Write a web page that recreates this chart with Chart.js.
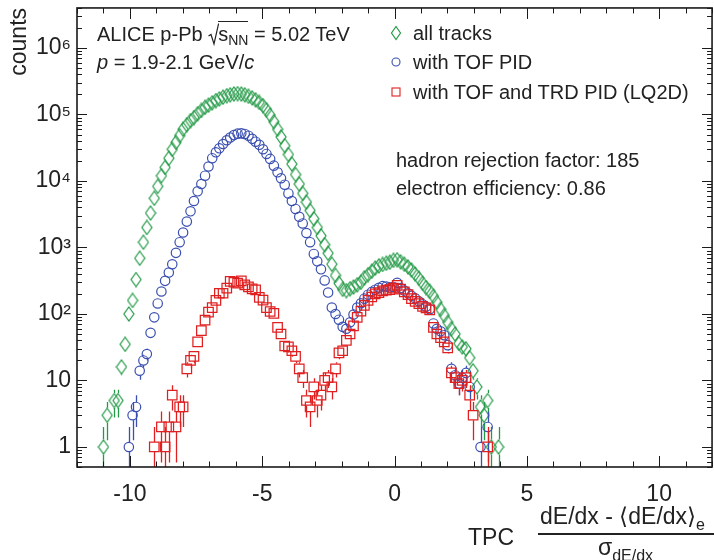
<!DOCTYPE html>
<html><head><meta charset="utf-8">
<script src="https://cdn.jsdelivr.net/npm/chart.js@4.4.1/dist/chart.umd.min.js"></script>
<style>
html,body{margin:0;padding:0;background:#fff;overflow:hidden;width:714px;height:560px;}
#wrap{position:absolute;left:0;top:0;width:720px;height:560px;}
canvas{display:block}
.t{position:absolute;font-family:"Liberation Sans",Arial,sans-serif;color:#222;white-space:nowrap;line-height:20px;font-size:20px}
.t sub{font-size:14px;vertical-align:-4px;line-height:0}
.x{position:absolute;font-family:"Liberation Sans",Arial,sans-serif;color:#222;white-space:nowrap;line-height:23px;font-size:23px}
.x sub{font-size:16px;vertical-align:-6px;line-height:0}
.mk{position:absolute}
</style></head><body>
<div id="wrap"><canvas id="c" width="720" height="560"></canvas></div>

<div class="t" style="left:97px;top:23px">ALICE p-Pb <svg width="11" height="24" style="vertical-align:-6px;margin-right:-1px"><path d="M0.5 13 L3 11.5 L6 21 L10.5 1 L11 1" fill="none" stroke="#222" stroke-width="1.2"/></svg><span style="border-top:1.2px solid #222;padding-top:1px">s<sub>NN</sub></span> = 5.02 TeV</div>
<div class="t" style="left:97px;top:52px"><i>p</i> = 1.9-2.1 GeV/<i>c</i></div>

<svg class="mk" style="left:390px;top:25px" width="12" height="16"><path d="M6 1.5 L10.5 8 L6 14.5 L1.5 8Z" fill="none" stroke="#239a47" stroke-width="1.2"/></svg>
<div class="t" style="left:413px;top:23px">all tracks</div>
<svg class="mk" style="left:391px;top:57px" width="10" height="10"><circle cx="5" cy="5" r="4" fill="none" stroke="#3a4fb0" stroke-width="1.1"/></svg>
<div class="t" style="left:413px;top:52px">with TOF PID</div>
<svg class="mk" style="left:391px;top:87px" width="10" height="10"><rect x="1" y="1" width="8" height="8" fill="none" stroke="#e02020" stroke-width="1.1"/></svg>
<div class="t" style="left:413px;top:82px">with TOF and TRD PID (LQ2D)</div>

<div class="t" style="left:396px;top:150px">hadron rejection factor: 185</div>
<div class="t" style="left:396px;top:178px">electron efficiency: 0.86</div>

<div class="x" style="left:468px;top:526px">TPC</div>
<div class="x" style="left:540px;top:505px">dE/dx - ⟨dE/dx⟩<sub>e</sub></div>
<div style="position:absolute;left:538px;top:533px;width:190px;height:1.5px;background:#222"></div>
<div class="x" style="left:598px;top:536px">σ<sub>dE/dx</sub></div>

<script>
// bin centres (x) shared by all three histograms
const binCenters = [-11.00,-10.86,-10.73,-10.59,-10.45,-10.32,-10.18,-10.04,-9.90,-9.77,
-9.63,-9.49,-9.36,-9.22,-9.08,-8.95,-8.81,-8.67,-8.53,-8.40,
-8.26,-8.12,-7.99,-7.85,-7.71,-7.58,-7.44,-7.30,-7.16,-7.03,
-6.89,-6.75,-6.62,-6.48,-6.34,-6.21,-6.07,-5.93,-5.79,-5.66,
-5.52,-5.38,-5.25,-5.11,-4.97,-4.84,-4.70,-4.56,-4.42,-4.29,
-4.15,-4.01,-3.88,-3.74,-3.60,-3.47,-3.33,-3.19,-3.05,-2.92,
-2.78,-2.64,-2.51,-2.37,-2.23,-2.10,-1.96,-1.82,-1.68,-1.55,
-1.41,-1.27,-1.14,-1.00,-0.86,-0.73,-0.59,-0.45,-0.31,-0.18,
-0.04,0.10,0.23,0.37,0.51,0.64,0.78,0.92,1.06,1.19,
1.33,1.47,1.60,1.74,1.88,2.01,2.15,2.29,2.43,2.56,
2.70,2.84,2.97,3.11,3.25,3.38,3.52,3.66,3.80,3.93];

// all tracks (green diamonds)
const allTracks = [1,3,null,5,5,16,35,100,160,330,
690,1200,2000,3300,5500,8300,12000,16000,22000,30000,
38000,48000,60000,70000,81000,90000,103000,115000,128000,138000,
150000,162000,172000,182000,192000,198000,204000,206000,203000,198000,
188000,178000,166000,152000,136000,118000,98000,78000,60000,46000,
34000,25000,18000,12500,9000,6500,4800,3600,2700,2000,
1500,1100,820,560,380,290,235,225,240,255,
275,300,350,390,440,490,530,555,580,600,
640,655,610,560,510,460,400,345,290,250,
220,185,150,118,95,75,60,50,36,32,
30,22,14,8,4,3,5,1,null,1];

// with TOF PID (blue circles)
const withTOF = [null,null,null,null,null,null,null,1,3,4,
14,20,25,52,89,144,218,315,420,560,
830,1200,1680,2450,3500,5000,7000,9000,12000,16500,
22000,27000,31000,36000,41000,45000,49000,51500,52000,51000,
48000,43000,39000,35000,30000,25500,21500,17000,13500,11000,
8800,6500,5000,3800,2900,2300,1650,1200,800,620,
470,320,210,125,100,82,64,60,75,98,
125,145,170,195,215,232,248,262,258,252,
255,295,245,225,205,188,172,155,140,128,
118,72,60,55,48,34,15,12,9,11,
13,8,null,null,1,null,2,null,null,null];

// with TOF and TRD PID, LQ2D (red squares)
const withTOFTRD = [null,null,null,null,null,null,null,null,null,null,
null,null,null,null,1,null,2,1,2,6,
2,4,4,15,20,23,38,56,81,107,
125,160,205,205,245,310,300,290,315,275,
255,238,230,178,162,125,109,102,63,50,
33,32,28,23,15,11,5,4,8,5,
6,10,11,8,15,26,28,40,50,66,
89,110,135,160,180,200,210,222,228,232,
245,270,237,215,195,170,155,143,130,124,
115,63,50,44,38,31,13,11,9,10,
11,6,3,null,null,null,1,null,null,null];

const seriesNames = ['all tracks', 'with TOF PID', 'with TOF and TRD PID (LQ2D)'];
const xMin = -12, xMax = 12, yMin = 0.5, yMax = 4e6;

const FONT = '"Liberation Sans", Arial, sans-serif';
const GREEN = '#239a47', BLUE = '#3a4fb0', RED = '#e02020';

function toPoints(vals) {
  const out = [];
  vals.forEach((v, i) => { if (v !== null) out.push({x: binCenters[i], y: v}); });
  return out;
}

// tall open diamond marker
const diamond = document.createElement('canvas');
diamond.width = 12; diamond.height = 16;
(function(){ const g = diamond.getContext('2d'); g.strokeStyle = GREEN; g.lineWidth = 1.2;
  g.beginPath(); g.moveTo(6, 1); g.lineTo(11, 8); g.lineTo(6, 15); g.lineTo(1, 8); g.closePath(); g.stroke(); })();

const markerHalf = [7.5, 4.9, 4.9];

const errorBars = {
  id: 'errorBars',
  afterDatasetDraw(chart, args) {
    const i = args.index, meta = args.meta, ds = chart.data.datasets[i];
    const y = chart.scales.y, a = chart.chartArea, ctx = chart.ctx;
    const half = markerHalf[i];
    ctx.save();
    ctx.beginPath(); ctx.rect(a.left, a.top, a.right - a.left, a.bottom - a.top); ctx.clip();
    ctx.strokeStyle = ds.borderColor; ctx.lineWidth = 1.3; ctx.beginPath();
    meta.data.forEach((pt, j) => {
      const v = ds.data[j].y, e = Math.sqrt(v);
      const hi = y.getPixelForValue(v + e);
      const lo = (v - e) > 0 ? y.getPixelForValue(v - e) : a.bottom + 2;
      const px = Math.round(pt.x) + 0.5;
      if (hi < pt.y - half) { ctx.moveTo(px, pt.y - half); ctx.lineTo(px, hi); }
      if (lo > pt.y + half) { ctx.moveTo(px, pt.y + half); ctx.lineTo(px, lo); }
    });
    ctx.stroke(); ctx.restore();
  }
};

const frameTicks = {
  id: 'frameTicks',
  afterDraw(chart) {
    const {ctx, chartArea: a, scales: {x, y}} = chart;
    ctx.save();
    ctx.strokeStyle = '#1a1a1a'; ctx.lineWidth = 1; ctx.beginPath();
    for (let v = xMin; v <= xMax; v++) {
      const px = Math.round(x.getPixelForValue(v)) + 0.5;
      const L = v % 5 === 0 ? 11 : 5.5;
      ctx.moveTo(px, a.bottom); ctx.lineTo(px, a.bottom - L);
      ctx.moveTo(px, a.top); ctx.lineTo(px, a.top + L);
    }
    for (let d = -1; d <= 7; d++) for (let m = 1; m <= 9; m++) {
      const v = m * Math.pow(10, d);
      if (v < yMin || v > yMax) continue;
      const py = Math.round(y.getPixelForValue(v)) + 0.5;
      const L = m === 1 ? 10 : 5;
      ctx.moveTo(a.left, py); ctx.lineTo(a.left + L, py);
      ctx.moveTo(a.right, py); ctx.lineTo(a.right - L, py);
    }
    ctx.stroke();
    ctx.lineWidth = 1.6;
    ctx.strokeRect(a.left, a.top, a.right - a.left, a.bottom - a.top);
    ctx.restore();
  }
};

const SUP = {2:'²',3:'³',4:'⁴',5:'⁵',6:'⁶'};

new Chart(document.getElementById('c'), {
  type: 'scatter',
  data: { datasets: [
    { label: seriesNames[0], data: toPoints(allTracks), borderColor: GREEN, backgroundColor: 'transparent',
      pointStyle: diamond, pointRadius: 6, order: 3 },
    { label: seriesNames[1], data: toPoints(withTOF), borderColor: BLUE, backgroundColor: 'transparent',
      pointStyle: 'circle', pointRadius: 4.7, pointBorderWidth: 1.2, order: 2 },
    { label: seriesNames[2], data: toPoints(withTOFTRD), borderColor: RED, backgroundColor: 'transparent',
      pointStyle: 'rect', pointRadius: 6.7, pointBorderWidth: 1.25, order: 1 }
  ]},
  options: {
    responsive: false, animation: false, devicePixelRatio: 1,
    layout: { padding: { left: 0, top: 6, right: 4, bottom: 0 } },
    plugins: { legend: { display: false }, tooltip: { enabled: false } },
    scales: {
      x: { type: 'linear', min: xMin, max: xMax,
        grid: { display: false, drawTicks: false }, border: { display: false },
        ticks: { stepSize: 1, autoSkip: false, maxRotation: 0, padding: 14, color: '#222',
          font: { family: FONT, size: 23 }, callback: v => (v % 5 === 0 ? String(v) : '') },
        afterFit(s) { s.height = 93; s.paddingLeft = 0; s.paddingRight = 0; } },
      y: { type: 'logarithmic', min: yMin, max: yMax,
        grid: { display: false, drawTicks: false }, border: { display: false },
        ticks: { autoSkip: false, padding: 6, color: '#222', font: { family: FONT, size: 23 },
          callback: v => { const e = Math.round(Math.log10(v)); if (Math.abs(v - Math.pow(10, e)) > 1e-6 * v) return '';
            if (e === 0) return '1'; if (e === 1) return '10'; return SUP[e] ? '10' + SUP[e] : ''; } },
        title: { display: true, text: 'counts', align: 'end', color: '#222', font: { family: FONT, size: 23 }, padding: { top: 6, bottom: 0 } },
        afterFit(s) { s.width = 77; s.paddingTop = 0; s.paddingBottom = 0; } }
    }
  },
  plugins: [errorBars, frameTicks]
});
</script>
</body></html>
